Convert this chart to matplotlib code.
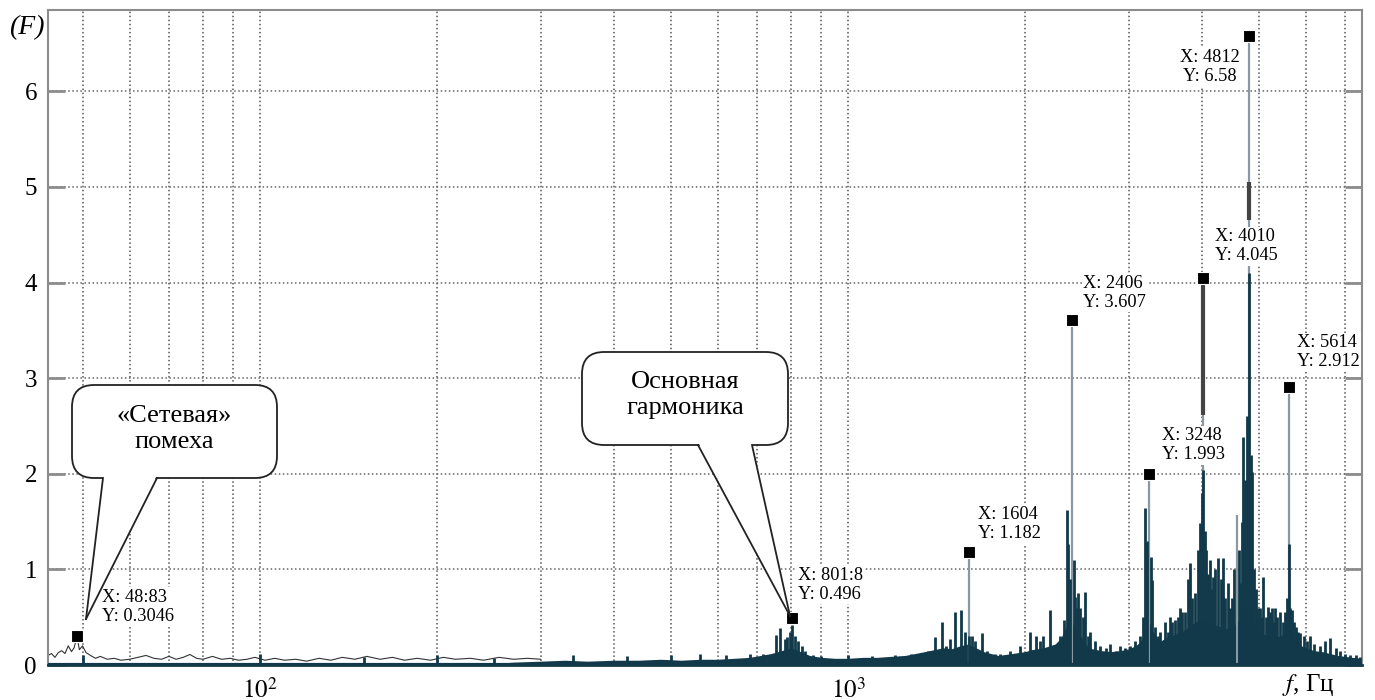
import matplotlib
matplotlib.use("Agg")
import matplotlib.pyplot as plt
from matplotlib.patches import FancyBboxPatch, Polygon
from matplotlib.lines import Line2D

plt.rcParams["font.family"] = ["Liberation Serif", "DejaVu Serif"]
plt.rcParams["mathtext.fontset"] = "stix"

# ---- data ----
# low-frequency noise line (Hz, amplitude)
low_noise = [(43.6, 0.1), (44.2, 0.12), (44.8, 0.08), (45.4, 0.13), (46, 0.15), (46.6, 0.12),
             (47.2, 0.2), (47.8, 0.14), (48.3, 0.18), (48.83, 0.3), (49.3, 0.16), (49.9, 0.2),
             (50.6, 0.13), (51.5, 0.1), (52.5, 0.07), (53.5, 0.09), (55, 0.06), (56.5, 0.07),
             (58, 0.05), (60, 0.06), (62, 0.08), (64, 0.1), (66, 0.07), (68, 0.06), (70, 0.09),
             (72, 0.06), (74, 0.08), (76, 0.11), (78, 0.07), (80, 0.06), (83, 0.09), (86, 0.06),
             (89, 0.07), (92, 0.05), (95, 0.06), (98, 0.08), (102, 0.05), (106, 0.07), (110, 0.05),
             (115, 0.06), (120, 0.04), (126, 0.07), (132, 0.05), (138, 0.08), (145, 0.06),
             (152, 0.09), (160, 0.06), (168, 0.08), (176, 0.05), (185, 0.07), (195, 0.05),
             (205, 0.08), (215, 0.06), (228, 0.07), (240, 0.05), (255, 0.08), (270, 0.06),
             (285, 0.07), (300, 0.06)]

# dense part of the spectrum: filled floor
floor_env = [(240, 0.01), (270, 0.03), (300, 0.04), (330, 0.05), (360, 0.04), (400, 0.05),
             (440, 0.05), (480, 0.06), (520, 0.05), (560, 0.06), (600, 0.06), (640, 0.07),
             (680, 0.08), (710, 0.1), (740, 0.12), (770, 0.15), (800, 0.18), (830, 0.14),
             (860, 0.1), (900, 0.08), (950, 0.07), (1000, 0.07), (1060, 0.08), (1120, 0.08),
             (1180, 0.09), (1250, 0.1), (1300, 0.12), (1350, 0.14), (1400, 0.16), (1450, 0.18),
             (1500, 0.17), (1550, 0.2), (1600, 0.22), (1650, 0.18), (1700, 0.14), (1750, 0.12),
             (1800, 0.1), (1850, 0.11), (1900, 0.12), (1950, 0.13), (2000, 0.14), (2050, 0.16),
             (2100, 0.17), (2150, 0.18), (2200, 0.2), (2250, 0.22), (2300, 0.28), (2350, 0.4),
             (2400, 0.45), (2450, 0.35), (2500, 0.28), (2550, 0.2), (2600, 0.17), (2700, 0.15),
             (2800, 0.14), (2900, 0.15), (3000, 0.17), (3080, 0.2), (3150, 0.25), (3200, 0.4),
             (3250, 0.45), (3300, 0.35), (3350, 0.28), (3400, 0.25), (3500, 0.3), (3600, 0.32),
             (3700, 0.35), (3800, 0.4), (3900, 0.45), (4000, 0.5), (4100, 0.45), (4200, 0.42),
             (4300, 0.4), (4400, 0.38), (4500, 0.4), (4600, 0.45), (4700, 0.55), (4800, 0.6),
             (4900, 0.45), (5000, 0.35), (5100, 0.32), (5200, 0.3), (5300, 0.3), (5400, 0.3),
             (5500, 0.32), (5600, 0.38), (5700, 0.3), (5800, 0.25), (5900, 0.2), (6000, 0.18),
             (6200, 0.15), (6400, 0.14), (6600, 0.12), (6800, 0.1), (7000, 0.09), (7200, 0.08),
             (7480, 0.07)]

# individual spectral lines (Hz, amplitude)
spikes = [(50, 0.1), (100, 0.12), (150, 0.08), (200, 0.1), (250, 0.07),
          (340, 0.1), (420, 0.09), (500, 0.1), (560, 0.11), (620, 0.1), (680, 0.12),
          (717, 0.12), (740, 0.1), (755, 0.31), (765, 0.39), (780, 0.27), (787, 0.29),
          (797, 0.35), (801.8, 0.42), (813, 0.3), (822, 0.25), (835, 0.2), (845, 0.15),
          (870, 0.1), (900, 0.09), (1000, 0.1), (1100, 0.09), (1200, 0.1), (1280, 0.12),
          (1326, 0.12), (1370, 0.15), (1406, 0.29), (1445, 0.45), (1470, 0.2), (1491, 0.27),
          (1521, 0.55), (1556, 0.57), (1581, 0.35), (1604, 0.3), (1625, 0.3), (1644, 0.25),
          (1690, 0.33), (1720, 0.15), (1780, 0.12),
          (1814, 0.12), (1886, 0.15), (1961, 0.2), (2039, 0.35), (2088, 0.3), (2120, 0.25),
          (2146, 0.3), (2206, 0.57), (2249, 0.2), (2294, 0.3), (2330, 0.47),
          (2357, 1.62), (2370, 1.27), (2386, 0.9), (2420, 1.1), (2432, 0.71), (2446, 0.6),
          (2461, 0.75), (2481, 0.6), (2510, 0.5), (2530, 0.76), (2555, 0.3), (2580, 0.35),
          (2630, 0.25), (2683, 0.2), (2740, 0.18), (2790, 0.22), (2850, 0.15), (2901, 0.2),
          (2960, 0.18), (3017, 0.2), (3076, 0.25),
          (3138, 0.3), (3175, 0.5), (3199, 1.64), (3225, 1.3), (3270, 1.13), (3289, 0.89),
          (3327, 0.4), (3361, 0.3), (3394, 0.35),
          (3461, 0.45), (3500, 0.35), (3529, 0.5), (3560, 0.45), (3599, 0.47), (3640, 0.5),
          (3670, 0.6), (3700, 0.55), (3742, 0.55), (3786, 0.9), (3816, 1.07), (3850, 0.7),
          (3891, 0.75), (3937, 1.2), (3968, 1.48), (3995, 1.8), (4010, 2.04), (4040, 1.4),
          (4063, 1.2), (4095, 0.95), (4127, 1.1), (4150, 0.8), (4176, 0.92), (4210, 1.0),
          (4257, 1.12), (4300, 0.9), (4343, 1.12), (4380, 0.7), (4426, 0.86), (4460, 0.6),
          (4497, 0.7), (4540, 1.0), (4620, 1.2), (4642, 0.86), (4670, 1.5), (4696, 2.38),
          (4732, 1.93), (4760, 2.6), (4812, 4.1), (4840, 2.2), (4864, 2.02), (4900, 1.0),
          (4943, 0.8), (4980, 0.6), (5021, 0.6), (5050, 0.5), (5080, 0.92), (5130, 0.5),
          (5178, 0.61), (5220, 0.55), (5261, 0.6), (5290, 0.45), (5322, 0.6), (5370, 0.5),
          (5429, 0.55), (5480, 0.45), (5535, 0.55), (5570, 0.7), (5614, 1.27), (5640, 0.6),
          (5690, 0.57), (5735, 0.45), (5780, 0.4), (5830, 0.35), (5871, 0.33), (5950, 0.3),
          (6020, 0.25), (6106, 0.3), (6200, 0.22), (6350, 0.2), (6480, 0.25), (6604, 0.28),
          (6750, 0.18), (6868, 0.15), (7000, 0.12), (7142, 0.1), (7300, 0.1), (7428, 0.08)]

# thin light peaks and darker pieces of the big peaks
light_peaks = [(1604, 1.182), (2406, 3.607), (3248, 1.993), (4010, 4.045),
               (4587, 1.57), (4812, 6.58), (5614, 2.912)]
dark_pieces = [(4010, 2.61, 4.0), (4812, 4.65, 5.05)]

# data tips
mark_f = [48.83, 801.8, 1604, 2406, 3248, 4010, 4812, 5614]
mark_a = [0.3046, 0.496, 1.182, 3.607, 1.993, 4.045, 6.58, 2.912]
mark_xtxt = ["48:83", "801:8", "1604", "2406", "3248", "4010", "4812", "5614"]
mark_ytxt = ["0.3046", "0.496", "1.182", "3.607", "1.993", "4.045", "6.58", "2.912"]
tip_f = [53.9, 822, 1664, 2510, 3420, 4208, 4127, 5790]
tip_y = [0.61, 0.84, 1.47, 3.89, 2.30, 4.38, 6.25, 3.27]

DARK = "#12394a"
LIGHT = "#8a98a4"

fig = plt.figure(figsize=(13.75, 7), dpi=100)
ax = fig.add_axes([48 / 1375, 35 / 700, 1314 / 1375, 655 / 700])
ax.set_xscale("log")
ax.set_xlim(43.6, 7480)
ax.set_ylim(0, 6.85)

# grid
ax.set_axisbelow(True)
ax.grid(True, which="both", axis="x", ls=":", color="#555555", lw=1.1)
ax.grid(True, which="major", axis="y", ls=":", color="#666666", lw=1.1)

# spectrum
lf, la = zip(*low_noise)
ax.plot(lf, la, color="#333333", lw=0.8, zorder=2)

ef, ea = zip(*floor_env)
ax.fill_between(ef, 0, ea, color=DARK, lw=0, zorder=2)

pf, pa_top = zip(*light_peaks)
ax.vlines(pf, 0, pa_top, color=LIGHT, lw=1.6, zorder=3)

sf, sa = zip(*spikes)
ax.vlines(sf, 0, sa, color=DARK, lw=2.0, zorder=4)

for f, lo, hi in dark_pieces:
    ax.vlines(f, lo, hi, color="#444444", lw=3, zorder=4)

ax.axhline(0, color=DARK, lw=3, zorder=5)

# markers and data tips
ax.plot(mark_f, mark_a, "s", ms=8.5, mfc="black", mec="white", mew=0.8, zorder=7)
for i in range(len(mark_f)):
    txt = "X: " + mark_xtxt[i] + "\nY: " + mark_ytxt[i]
    ha = "center" if mark_f[i] == 4812 else "left"
    ax.text(tip_f[i], tip_y[i], txt, fontsize=13.2, ha=ha, va="center", ma=ha,
            linespacing=1.15, zorder=8,
            bbox=dict(fc="white", ec="none", pad=1))

# axes styling
ax.set_yticks(range(7))
ax.set_xticks([100, 1000])
ax.set_xticklabels(["$10^2$", "$10^3$"])
ax.tick_params(axis="y", direction="in", length=12, width=2, color="#8c8c8c",
               left=True, right=True, labelsize=18, pad=8)
ax.tick_params(axis="x", which="both", length=0, labelsize=18, pad=9)
for s in ["left", "right", "top"]:
    ax.spines[s].set_color("#8c8c8c")
    ax.spines[s].set_linewidth(1.5)
ax.spines["bottom"].set_color(DARK)
ax.spines["bottom"].set_linewidth(2)

fig.text(27 / 1375, 1 - 28 / 700, "(F)", style="italic", fontsize=20,
         ha="center", va="center")
fig.text(1308 / 1375, 1 - 685 / 700, "$f$, Гц", fontsize=18, ha="center", va="center")


# speech-bubble callouts (positions in pixels of the 1375x700 picture)
def bubble(x0, x1, y0, y1, b1, b2, tip, text, cy):
    tr = fig.dpi_scale_trans
    box = FancyBboxPatch((x0 / 100, (700 - y1) / 100), (x1 - x0) / 100, (y1 - y0) / 100,
                         boxstyle="round,pad=0,rounding_size=0.22",
                         fc="white", ec="#222222", lw=1.3, transform=tr, zorder=10)
    fig.add_artist(box)
    pts = [(b1 / 100, (700 - y1 + 3) / 100), (tip[0] / 100, (700 - tip[1]) / 100),
           (b2 / 100, (700 - y1 + 3) / 100)]
    fig.add_artist(Polygon(pts, closed=True, fc="white", ec="none", transform=tr, zorder=11))
    for bx in (b1, b2):
        fig.add_artist(Line2D([bx / 100, tip[0] / 100], [(700 - y1) / 100, (700 - tip[1]) / 100],
                              color="#222222", lw=1.3, transform=tr, zorder=12))
    fig.text((x0 + x1) / 2 / 1375, 1 - cy / 700, text, fontsize=19, ha="center",
             va="center", linespacing=1.2, zorder=13)


bubble(72, 277, 385, 478, 103, 157, (86, 619), "«Сетевая»\nпомеха", 429)
bubble(582, 788, 352, 445, 698, 752, (790, 616), "Основная\nгармоника", 395)

fig.savefig("out.png", dpi=100)
